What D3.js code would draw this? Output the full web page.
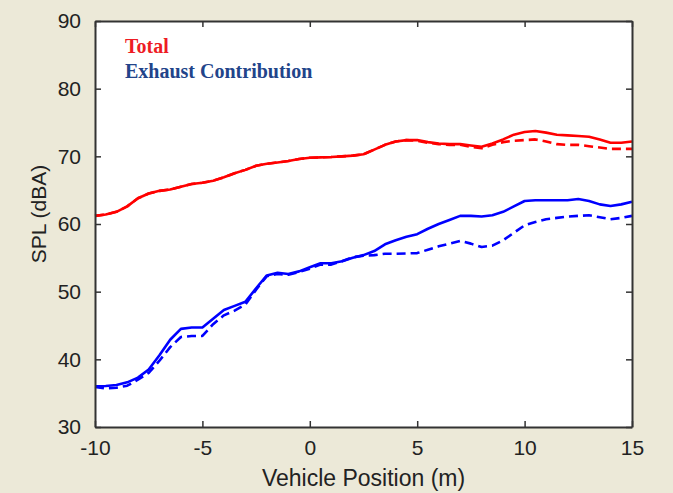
<!DOCTYPE html>
<html><head><meta charset="utf-8">
<script src="https://cdn.jsdelivr.net/npm/d3@7"></script>
<style>
html,body{margin:0;padding:0;background:#ece9d8;}
svg{display:block;}
</style></head>
<body>
<svg id="chart" width="673" height="493"></svg>
<script>
// ---- data ----
const positions = [-10,-9.5,-9,-8.5,-8,-7.5,-7,-6.5,-6,-5.5,-5,-4.5,-4,-3.5,-3,-2.5,-2,-1.5,-1,-0.5,0,0.5,1,1.5,2,2.5,3,3.5,4,4.5,5,5.5,6,6.5,7,7.5,8,8.5,9,9.5,10,10.5,11,11.5,12,12.5,13,13.5,14,14.5,15];
const totalSolid = [61.2,61.4,61.8,62.6,63.8,64.5,64.9,65.1,65.5,65.9,66.1,66.4,66.9,67.5,68.0,68.6,68.9,69.1,69.3,69.6,69.8,69.85,69.9,70.0,70.1,70.3,71.0,71.7,72.2,72.4,72.4,72.1,71.9,71.8,71.8,71.6,71.4,71.9,72.5,73.2,73.6,73.75,73.5,73.2,73.1,73.0,72.9,72.5,72.0,72.0,72.2];
const totalDashed = [61.2,61.4,61.8,62.6,63.8,64.5,64.9,65.1,65.5,65.9,66.1,66.4,66.9,67.5,68.0,68.6,68.9,69.1,69.3,69.6,69.8,69.85,69.9,70.0,70.1,70.3,71.0,71.7,72.2,72.4,72.3,72.0,71.8,71.7,71.7,71.4,71.2,71.7,72.1,72.3,72.4,72.5,72.2,71.8,71.7,71.7,71.5,71.3,71.1,71.1,71.1];
const exhaustSolid = [36.0,36.05,36.2,36.6,37.3,38.5,40.6,42.9,44.5,44.7,44.7,46.0,47.3,47.9,48.5,50.5,52.4,52.8,52.6,53.0,53.6,54.2,54.2,54.5,55.0,55.4,56.0,57.0,57.6,58.1,58.5,59.3,60.0,60.6,61.2,61.2,61.1,61.3,61.8,62.6,63.4,63.5,63.5,63.5,63.5,63.7,63.4,62.9,62.65,62.9,63.3];
const exhaustDashed = [35.9,35.7,35.8,36.1,37.0,38.0,39.8,41.8,43.3,43.45,43.45,45.2,46.5,47.2,48.1,50.3,52.3,52.6,52.5,52.9,53.4,54.0,54.0,54.5,55.1,55.3,55.4,55.6,55.6,55.65,55.7,56.2,56.7,57.1,57.5,57.1,56.6,56.8,57.6,58.7,59.8,60.3,60.7,60.9,61.1,61.2,61.3,61.0,60.7,60.9,61.2];
const xTicks = [-10,-5,0,5,10,15];
const yTicks = [30,40,50,60,70,80,90];
const legendLabels = ["Total","Exhaust Contribution"];
const xLabel = "Vehicle Position (m)";
const yLabel = "SPL (dBA)";

// ---- layout ----
const svg = d3.select("#chart");
const L = 95, R = 632, T = 21, B = 427;
const x = d3.scaleLinear().domain([-10,15]).range([L,R]);
const y = d3.scaleLinear().domain([30,90]).range([B,T]);

svg.append("rect").attr("x",0).attr("y",0).attr("width",673).attr("height",493).attr("fill","#ece9d8");
svg.append("rect").attr("x",L).attr("y",T).attr("width",R-L).attr("height",B-T).attr("fill","#ffffff");

const series = [
  {v: totalSolid, c:"#ff0000", dash:null},
  {v: totalDashed, c:"#ff0000", dash:"9,5"},
  {v: exhaustSolid, c:"#0000ff", dash:null},
  {v: exhaustDashed, c:"#0000ff", dash:"9,5"}
];
const line = d3.line().x((d,i)=>x(positions[i])).y(d=>y(d)).curve(d3.curveLinear);
const plot = svg.append("g");
series.forEach(s=>{
  plot.append("path").datum(s.v).attr("d",line)
    .attr("fill","none").attr("stroke",s.c).attr("stroke-width",2.6)
    .attr("stroke-linejoin","round")
    .attr("stroke-dasharray",s.dash);
});

// axes (ticks inward on all four sides)
const fontTick = "'Liberation Sans', Arial, sans-serif";
const axColor = "#333";
const fmt = d => String(d);
const gB = svg.append("g").attr("transform",`translate(0,${B})`)
  .call(d3.axisBottom(x).tickValues(xTicks).tickFormat(fmt).tickSizeInner(-6).tickSizeOuter(0).tickPadding(13));
const gT = svg.append("g").attr("transform",`translate(0,${T})`)
  .call(d3.axisTop(x).tickValues(xTicks).tickSizeInner(-6).tickSizeOuter(0).tickFormat(""));
const gL = svg.append("g").attr("transform",`translate(${L},0)`)
  .call(d3.axisLeft(y).tickValues(yTicks).tickFormat(fmt).tickSizeInner(-6).tickSizeOuter(0).tickPadding(14));
const gR = svg.append("g").attr("transform",`translate(${R},0)`)
  .call(d3.axisRight(y).tickValues(yTicks).tickSizeInner(-6).tickSizeOuter(0).tickFormat(""));
[gB,gT,gL,gR].forEach(g=>{
  g.select(".domain").attr("stroke",axColor).attr("stroke-width",2);
  g.selectAll(".tick line").attr("stroke",axColor).attr("stroke-width",1.5);
  g.selectAll("text").attr("font-family",fontTick).attr("font-size",21).attr("fill","#222");
});

// axis labels
svg.append("text").attr("x",(L+R)/2).attr("y",486).attr("text-anchor","middle")
  .attr("font-family",fontTick).attr("font-size",23).attr("fill","#222").text(xLabel);
svg.append("text").attr("transform","translate(46,214) rotate(-90)").attr("text-anchor","middle")
  .attr("font-family",fontTick).attr("font-size",21).attr("fill","#222").text(yLabel);

// legend text
const legendColors = ["#ee1c24","#22448a"];
legendLabels.forEach((t,i)=>{
  svg.append("text").attr("x",125).attr("y",53+i*25)
    .attr("font-family","'Liberation Serif','Times New Roman',serif").attr("font-weight","bold")
    .attr("font-size",20).attr("fill",legendColors[i]).text(t);
});
</script>
</body></html>
